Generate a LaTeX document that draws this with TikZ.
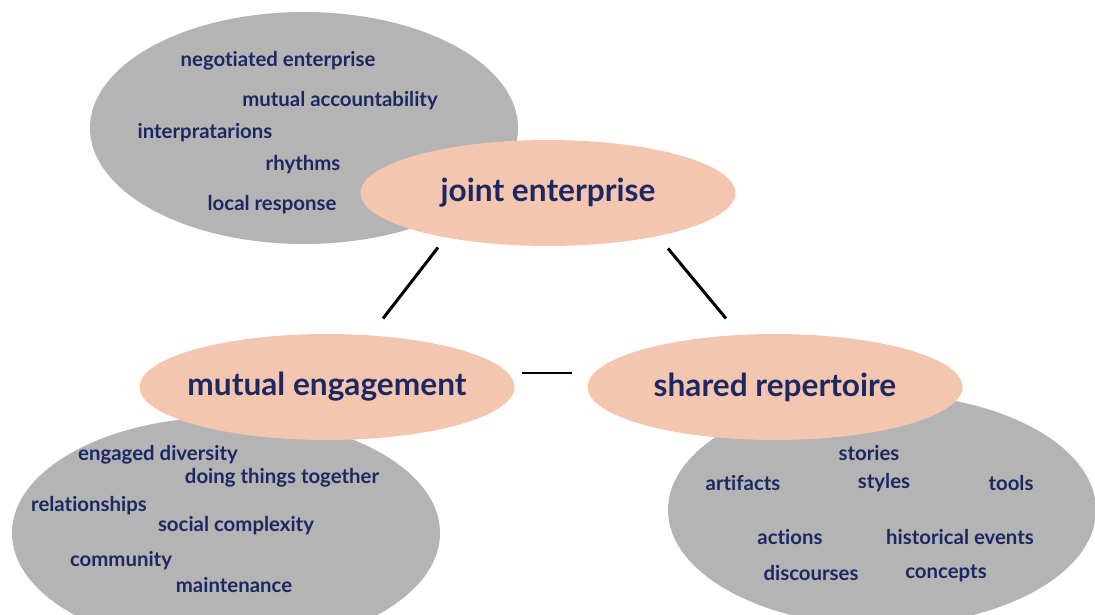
\documentclass[tikz,border=0pt]{standalone}
\usepackage{fontspec}
\setmainfont{Lato}[Ligatures=NoCommon]
\usetikzlibrary{shapes.geometric}
\definecolor{navy}{HTML}{1C2862}
\definecolor{peach}{HTML}{F5C6AF}
\definecolor{cloud}{HTML}{B4B4B4}
\begin{document}
\begin{tikzpicture}[x=0.02cm, y=-0.02cm, line width=1.7pt,
  main node/.style={ellipse,fill=peach,inner xsep=-5pt,inner ysep=0pt,minimum width=7.5cm,minimum height=2.12cm,font=\fontsize{18}{21}\selectfont\bfseries,text=navy},
  item/.style={font=\fontsize{11.6}{13}\selectfont\bfseries,text=navy,inner sep=0pt}]
\useasboundingbox (0,0) rectangle (1095,615);
\begin{scope}
\clip (0,0) rectangle (1095,615);
\fill [cloud] (304,128) ellipse [x radius=214, y radius=116];
\fill [cloud] (226,533) ellipse [x radius=214, y radius=116];
\fill [cloud] (882,510) ellipse [x radius=214, y radius=116];
\end{scope}
\node [main node](je) at (548,193) {joint enterprise};
\node [main node](me) at (327,387) {mutual engagement};
\node [main node](sr) at (775,387) {shared repertoire};
\begin{scope}[every node/.style={item}]
\node (n1) at (278,61) {negotiated enterprise};
\node (n2) at (340,101) {mutual accountability};
\node (n3) at (205,133) {interpratarions};
\node (n4) at (303,165) {rhythms};
\node (n5) at (272,205) {local response};
\node (m1) at (158,455) {engaged diversity};
\node (m2) at (282,478) {doing things together};
\node (m3) at (89,506) {relationships};
\node (m4) at (236,526) {social complexity};
\node (m5) at (121,561) {community};
\node (m6) at (234,585) {maintenance};
\node (r1) at (869,453) {stories};
\node (r2) at (743,483) {artifacts};
\node (r3) at (884,483) {styles};
\node (r4) at (1011,483) {tools};
\node (r5) at (790,537) {actions};
\node (r6) at (960,537) {historical events};
\node (r7) at (811,573) {discourses};
\node (r8) at (946,573) {concepts};
\end{scope}
\draw ([shift={(-110,0)}]je.south) -- ([shift={(56,-14)}]me.north);
\draw ([shift={(120,1)}]je.south) -- ([shift={(-49,-14)}]sr.north);
\draw ([shift={(6,-14)}]me.east) -- ([shift={(-14,-14)}]sr.west);
\end{tikzpicture}
\end{document}
